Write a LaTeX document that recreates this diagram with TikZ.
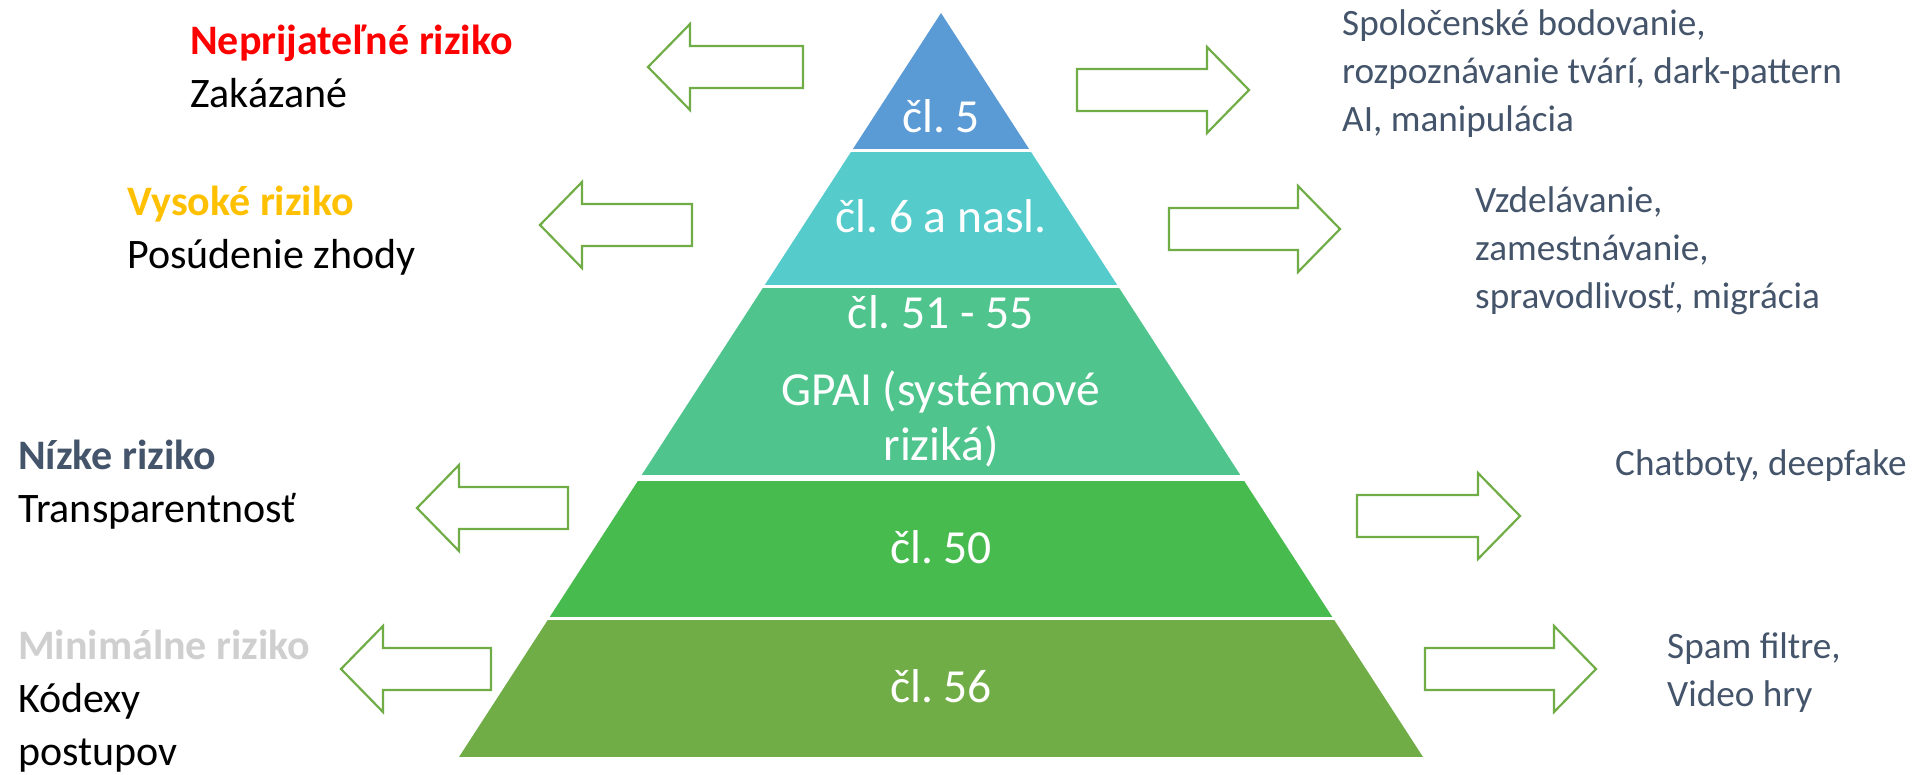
\documentclass[tikz,border=0pt]{standalone}
\usepackage{fontspec}
\setmainfont{Carlito}
\usepackage{tikz}
\definecolor{tierblue}{HTML}{5B9BD5}
\definecolor{tierteal}{HTML}{56CBCB}
\definecolor{tiermint}{HTML}{4FC58D}
\definecolor{tiergreen}{HTML}{48BB4F}
\definecolor{tierolive}{HTML}{70AD47}
\definecolor{arrowgreen}{HTML}{70AD47}
\definecolor{riskred}{HTML}{FF0000}
\definecolor{riskyellow}{HTML}{FFC000}
\definecolor{slate}{HTML}{44546A}
\definecolor{palegrey}{HTML}{CFCFCF}

\begin{document}
\frenchspacing
\begin{tikzpicture}[x=1pt, y=-1pt,
		outline/.style={draw=arrowgreen, line width=2.2pt, line join=miter},
		tiertext/.style={anchor=base, text=white, font=\fontsize{47.5}{55}\selectfont, align=center, inner sep=0pt},
		risktext/.style={anchor=base west, font=\fontsize{42}{53}\selectfont, align=left, inner sep=0pt},
		usetext/.style={anchor=base west, text=slate, font=\fontsize{37.2}{48}\selectfont, align=left, inner sep=0pt}]
	
	\useasboundingbox (0,0) rectangle (1918,774);
	
	% Draw pyramid bands.
	\begin{scope}
		\clip (941,13) -- (1423,757) -- (459,757) -- cycle;
		\foreach \ya/\yb/\col in {0/149/tierblue, 152/285/tierteal, 288/475/tiermint, 481/617/tiergreen, 620/757/tierolive} {
			\fill[\col] (400,\ya) rectangle (1500,\yb);
		}
	\end{scope}
	
	% Articles inside the bands (base = last line).
	\node[tiertext] (art5) at (941,132) {čl. 5};
	\node[tiertext] (art6) at (941,232) {čl. 6 a nasl.};
	\node[tiertext] (art51) at (941,328) {čl. 51 - 55};
	\node[tiertext] (gpai) at (941,460) {GPAI (systémové\\riziká)};
	\node[tiertext] (art50) at (941,563) {čl. 50};
	\node[tiertext] (art56) at (941,702) {čl. 56};
	
	% Block arrows pointing left.
	\foreach \tip/\tail/\y in {648/803/67, 540/692/225, 417/568/508, 341/491/669} {
		\draw[outline] (\tip,\y) -- (\tip+42,\y-43) -- (\tip+42,\y-21) -- (\tail,\y-21)
			-- (\tail,\y+21) -- (\tip+42,\y+21) -- (\tip+42,\y+43) -- cycle;
	}
	
	% Block arrows pointing right.
	\foreach \tail/\tip/\y in {1077/1249/90, 1169/1340/229, 1357/1520/516, 1425/1596/669} {
		\draw[outline] (\tip,\y) -- (\tip-42,\y-43) -- (\tip-42,\y-21) -- (\tail,\y-21)
			-- (\tail,\y+21) -- (\tip-42,\y+21) -- (\tip-42,\y+43) -- cycle;
	}
	
	% Risk levels.
	\node[risktext] (unacceptable) at (190,107) {\textbf{\textcolor{riskred}{Neprijateľné riziko}}\\Zakázané};
	\node[risktext] (high) at (127,268) {\textbf{\textcolor{riskyellow}{Vysoké riziko}}\\Posúdenie zhody};
	\node[risktext] (low) at (18,522) {\textbf{\textcolor{slate}{Nízke riziko}}\\Transparentnosť};
	\node[risktext] (minimal) at (18,765) {\textbf{\textcolor{palegrey}{Minimálne riziko}}\\Kódexy\\postupov};
	
	% Examples.
	\node[usetext] (banned) at (1342,131) {Spoločenské bodovanie,\\rozpoznávanie tvárí, dark-pattern\\AI, manipulácia};
	\node[usetext] (sectors) at (1475,308) {Vzdelávanie,\\zamestnávanie,\\spravodlivosť, migrácia};
	\node[usetext] (chat) at (1615,475) {Chatboty, deepfake};
	\node[usetext] (spam) at (1667,706) {Spam filtre,\\Video hry};
	
\end{tikzpicture}
\end{document}
